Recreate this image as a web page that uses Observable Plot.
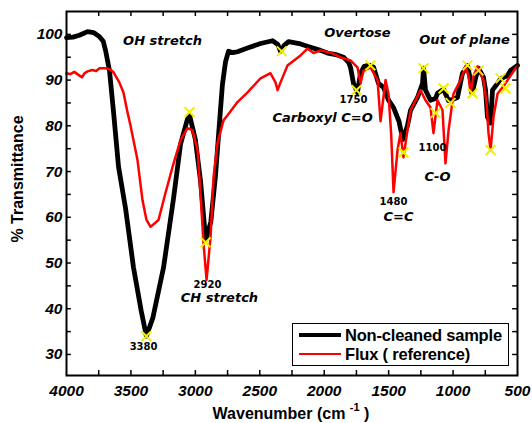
<!DOCTYPE html>
<html><head><meta charset="utf-8">
<script src="https://cdn.jsdelivr.net/npm/d3@7"></script>
<script src="https://cdn.jsdelivr.net/npm/@observablehq/plot@0.6"></script>
<style>
body{margin:0;background:#fff;}
#wrap{position:relative;width:532px;height:423px;font-family:"Liberation Sans",Arial,sans-serif;}
#wrap svg{position:absolute;left:0;top:0;}
.ytitle{position:absolute;left:18px;top:179px;transform:translate(-50%,-50%) rotate(-90deg);white-space:nowrap;font-weight:bold;font-size:16px;}
.xtitle{position:absolute;left:291px;top:413px;transform:translate(-50%,-50%);white-space:nowrap;font-weight:bold;font-size:16px;}
.xtitle sup{font-size:11px;position:relative;top:-2px;}
#legend{position:absolute;left:292px;top:323px;width:217px;height:43px;border:1.5px solid #000;background:#fff;box-sizing:border-box;}
#legend .row{position:absolute;left:6px;height:18px;display:flex;align-items:center;font-weight:bold;font-size:16.5px;letter-spacing:-0.2px;white-space:nowrap;}
#legend .sw{width:42px;margin-right:4px;}
</style></head><body><div id="wrap"></div><script>
// ---- data ----
const blackWn = [4000,3950,3900,3837,3790,3744,3715,3697,3666,3635,3596,3542,3480,3420,3380,3330,3247,3170,3115,3061,3045,3000,2960,2920,2880,2844,2820,2790,2766,2743,2710,2673,2595,2494,2401,2360,2339,2310,2277,2184,2106,2029,1974,1900,1850,1810,1796,1773,1742,1718,1690,1664,1641,1617,1579,1540,1501,1462,1420,1390,1354,1330,1276,1237,1229,1214,1175,1136,1121,1074,1035,1000,966,927,888,865,849,820,802,764,748,733,709,694,655,632,608,577,554,500];
const blackT = [99.3,99.4,99.8,100.6,100.4,99.5,98.5,96.5,92,83,71,62,49,39.5,34,38,49,64,76,81.5,82.3,77,68,55,59,69,78,89,94,96.3,96,96.2,97,98,98.6,97.8,96.3,97.6,98.4,97.9,97.2,96.5,95.9,95.5,95,93.8,92.8,89.3,87.3,91.5,93,93.2,93.2,92.8,89.3,88.4,85.6,84,81,77,80,83.4,86.2,89.3,92.6,87.8,85.6,86,87.1,88,85.5,85.8,86.2,91.5,93.2,90,87.5,91,92.6,90.6,87.8,81.9,80.6,87.8,89.3,90.2,90.6,91,92.1,93.2];
const redWn = [4000,3970,3940,3910,3880,3860,3837,3800,3770,3744,3697,3660,3635,3590,3558,3527,3503,3449,3410,3380,3348,3286,3232,3177,3115,3061,3040,3022,2983,2960,2937,2913,2882,2859,2828,2782,2750,2673,2595,2494,2417,2378,2362,2339,2285,2184,2130,2083,2029,1950,1874,1796,1742,1718,1695,1641,1586,1563,1524,1501,1480,1462,1431,1408,1385,1354,1330,1291,1253,1214,1175,1152,1121,1082,1059,1035,997,942,903,880,865,840,810,764,740,725,709,686,655,600,577,500];
const redT = [91.5,91.3,91.8,91.2,90.6,91.5,91.9,92.2,92,92.6,92.6,92.3,91.7,89.5,87.3,83,80,72.5,63.7,59.5,57.9,59.4,65.3,71,76.9,79.5,79.3,79,74.7,65.3,54.4,46.3,55.7,68.8,76.2,81.2,82.3,85.2,87.3,90.4,91.5,89.5,87.8,89.5,93.2,95.4,96.9,95.9,96.5,96,95,94.3,92.8,89.3,92,92.8,90,81,90,87,78,65.5,74.7,78.4,73.1,79,83.4,85.6,87.8,85.6,84,78.4,85.6,83.4,71.8,79,87,90,93,91,87.1,91,93,90,85,78.4,74.7,82,87,89,90,93.2];
const starWn = [3380,3045,2920,2330,1750,1641,1385,1229,1136,1074,1020,888,849,802,709,632,593];
const starT = [34,83,54.5,96.3,87.8,93.2,74.2,92.6,82.8,88.2,85,93.2,87.1,92.1,74.7,90.4,88.2];
const bigLabels = ["OH stretch","Overtose","Out of plane","Carboxyl C=O","C-O","C=C","CH stretch"];
const bigWn = [3255,1742,911,2013,1121,1423,2813];
const bigT = [98.5,100.4,98.7,81.7,68.8,60,42.4];
const peakLabels = ["1750","1100","1480","2920","3380"];
const peakWn = [1773,1160,1462,2906,3402];
const peakT = [85.6,75.3,63.3,45.2,31.7];
const xTickValues = [4000,3500,3000,2500,2000,1500,1000,500];
const yTickValues = [30,40,50,60,70,80,90,100];
const xMinor = d3.range(3750,500,-250);
const yMinor = d3.range(30,105,5);
const xDomain = [4000,500], yDomain = [25.4,105];

const black = blackWn.map((w,i)=>({wn:w,t:blackT[i]}));
const red = redWn.map((w,i)=>({wn:w,t:redT[i]}));
const stars = starWn.map((w,i)=>({wn:w,t:starT[i]}));
const big = bigLabels.map((s,i)=>({s,wn:bigWn[i],t:bigT[i]}));
const peaks = peakLabels.map((s,i)=>({s,wn:peakWn[i],t:peakT[i]}));

const xLen = 1.1, yLen = 38;
const plot = Plot.plot({
  width:532, height:423, marginLeft:66, marginRight:15, marginTop:11, marginBottom:48,
  style:{background:"white", fontFamily:"Liberation Sans, Arial, sans-serif"},
  x:{domain:xDomain}, y:{domain:yDomain},
  marks:[
    Plot.axisX(xTickValues,{tickSize:0,tickPadding:9,fontSize:15.5,fontWeight:"bold",fontStyle:"italic",label:null,tickFormat:d=>String(d)}),
    Plot.axisY(yTickValues,{tickSize:0,tickPadding:4,fontSize:15.5,fontWeight:"bold",fontStyle:"italic",label:null,tickFormat:d=>String(d)}),
    Plot.ruleX(xMinor,{y1:yDomain[0],y2:yDomain[0]+xLen,strokeWidth:1.5}),
    Plot.ruleX(xMinor,{y1:yDomain[1],y2:yDomain[1]-xLen,strokeWidth:1.5}),
    Plot.ruleY(yMinor,{x1:xDomain[0],x2:xDomain[0]-yLen,strokeWidth:1.5}),
    Plot.ruleY(yMinor,{x1:xDomain[1],x2:xDomain[1]+yLen,strokeWidth:1.5}),
    Plot.line(black,{x:"wn",y:"t",stroke:"black",strokeWidth:4.8,strokeLinejoin:"round"}),
    Plot.line(red,{x:"wn",y:"t",stroke:"#ff0000",strokeWidth:2.5,strokeLinejoin:"round"}),
    Plot.dot(stars,{x:"wn",y:"t",symbol:"times",stroke:"#f0f000",r:4.5,strokeWidth:2}),
    Plot.text(big,{x:"wn",y:"t",text:"s",fontSize:13,fontWeight:"bold",fontStyle:"italic",fontFamily:"DejaVu Sans"}),
    Plot.text(peaks,{x:"wn",y:"t",text:"s",fontSize:10,fontWeight:"bold",fontFamily:"DejaVu Sans"}),
    Plot.frame({strokeWidth:2})
  ]
});
const wrap = document.getElementById("wrap");
wrap.appendChild(plot);
wrap.insertAdjacentHTML("beforeend",
 `<div class="ytitle">% Transmittance</div>
  <div class="xtitle">Wavenumber (cm <sup>-1</sup> )</div>
  <div id="legend">
    <div class="row" style="top:2px"><div class="sw" style="height:4px;background:#000"></div>Non-cleaned sample</div>
    <div class="row" style="top:21px"><div class="sw" style="height:2px;background:#f00"></div>Flux ( reference)</div>
  </div>`);
</script></body></html>
